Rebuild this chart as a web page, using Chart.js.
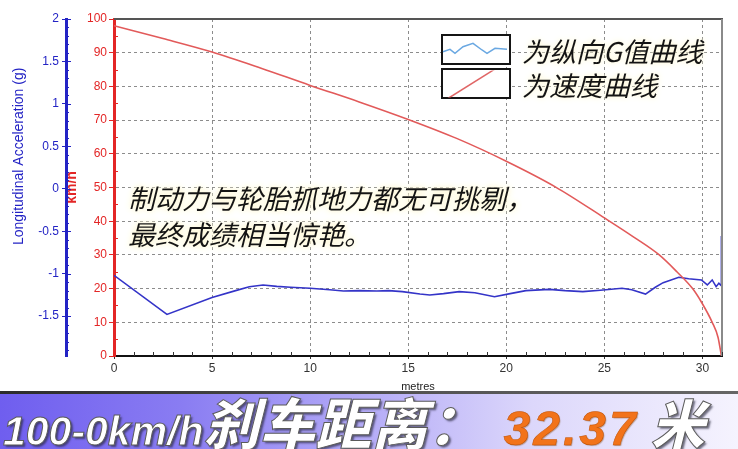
<!DOCTYPE html>
<html><head><meta charset="utf-8">
<title>100-0km/h 刹车距离</title>
<script src="https://cdn.jsdelivr.net/npm/chart.js"></script>
<style>
html,body{margin:0;padding:0;background:#fff;}
#wrap{position:relative;width:738px;height:449px;overflow:hidden;background:#fff;}
#c{position:absolute;left:0;top:0;}
.note{position:absolute;left:128px;font-family:'Noto Sans CJK SC',sans-serif;font-style:italic;font-size:27px;line-height:36px;color:#141414;white-space:nowrap;
  text-shadow:0 0 3px #fffbe6,0 0 6px #fff6c8,0 0 8px #fff8d8;}
.lgbox{position:absolute;left:441px;width:66px;height:27px;border:2.5px solid #151515;background:#fff;}
.lgtxt{position:absolute;left:522px;font-family:'Noto Sans CJK SC',sans-serif;font-style:italic;font-size:27px;line-height:32px;color:#141414;white-space:nowrap;
  text-shadow:0 0 3px #fffbe6,0 0 6px #fff6c8;}
#legsvg{position:absolute;left:0;top:0;}
#banner{position:absolute;left:0;top:391px;width:738px;height:58px;
  background:linear-gradient(to right,#6f5eef 0%,#8a7df2 25%,#b5acf7 50%,#dcd7fb 72%,#f5f3fe 100%);}
#bar{position:absolute;left:0;top:391px;width:738px;height:3px;background:linear-gradient(to right,#2c2c2c,#555 60%,#666);}
#btxt{position:absolute;left:3px;top:398px;white-space:nowrap;line-height:46px;font-weight:bold;font-style:italic;}
#btxt span{display:inline-block;}
#btxt .lat{font-family:'Liberation Sans',Arial,sans-serif;font-size:41px;color:#fff;
  -webkit-text-stroke:1px #5a5a5a;text-shadow:2px 2px 2px rgba(40,40,60,.65);}
#btxt .cjk{font-family:'Noto Sans CJK SC',sans-serif;font-size:56px;color:#fff;font-weight:900;
  -webkit-text-stroke:1px #5a5a5a;text-shadow:2px 2px 2px rgba(40,40,60,.65);}
#btxt .num{font-family:'Liberation Sans',Arial,sans-serif;font-size:48px;color:#f2731a;letter-spacing:3px;margin-left:20px;
  -webkit-text-stroke:0.5px #c05000;text-shadow:1px 1px 1px rgba(120,60,0,.4);}
#btxt .mi{font-size:54px;margin-left:12px;}
</style>
</head><body>
<div id="wrap">
<canvas id="c" width="738" height="449"></canvas>
<div class="note" style="top:180px;">制动力与轮胎抓地力都无可挑剔，</div>
<div class="note" style="top:216px;">最终成绩相当惊艳。</div>
<div class="lgbox" style="top:34px;"></div>
<div class="lgbox" style="top:68px;"></div>
<svg id="legsvg" width="738" height="120">
  <defs><clipPath id="cp2"><rect x="443.5" y="70.5" width="66" height="27"/></clipPath></defs>
  <polyline points="443,51.7 450,49.3 455,53.3 463,46.7 473,43.3 482,50 487,53.3 495,48.3 507,49.3" fill="none" stroke="#6aa8e2" stroke-width="1.5"/>
  <line x1="448" y1="98.5" x2="495" y2="69" stroke="#e06666" stroke-width="1.5" clip-path="url(#cp2)"/>
</svg>
<div class="lgtxt" style="top:35px;">为纵向G值曲线</div>
<div class="lgtxt" style="top:69px;">为速度曲线</div>
<div id="banner"></div>
<div id="bar"></div>
<div id="btxt"><span class="lat">100-0km/h</span><span class="cjk">刹车距离：</span><span class="num">32.37</span><span class="cjk mi">米</span></div>
</div>
<script>
// ---- data ----
const speedDist = [0, 2.5, 5, 7.5, 10, 12.5, 15, 17.5, 20, 22.5, 25, 26.5, 27.8, 28.7, 29.5, 30, 30.5, 30.8, 30.97];
const speedKmh  = [98, 94.2, 90.2, 85.4, 80.3, 75.4, 70.2, 64.5, 57.8, 50.2, 41.0, 35.3, 30, 25, 20, 15.5, 10, 5.5, 0];

const gDist = [0, 2.7, 5.0, 6.2, 6.9, 7.6, 8.3, 9.0, 10.0, 11.0, 11.7, 12.5, 13.4, 14.0, 14.7, 15.6, 16.1, 16.8, 17.6, 18.4, 19.4, 20.2, 21.0, 22.2, 23.0, 23.9, 24.8, 25.9, 26.4, 27.1, 27.6, 28.0, 28.8, 29.3, 29.95, 30.25, 30.5, 30.7, 30.84, 30.95, 30.97];
const gValue = [-1.02, -1.48, -1.28, -1.2, -1.155, -1.133, -1.15, -1.16, -1.172, -1.19, -1.205, -1.2, -1.205, -1.2, -1.212, -1.24, -1.251, -1.235, -1.212, -1.225, -1.271, -1.235, -1.2, -1.185, -1.2, -1.212, -1.195, -1.172, -1.19, -1.24, -1.16, -1.106, -1.043, -1.06, -1.074, -1.133, -1.074, -1.153, -1.113, -1.14, -0.556];

const xTicks = [0, 5, 10, 15, 20, 25, 30];
const kmhTicks = [0, 10, 20, 30, 40, 50, 60, 70, 80, 90, 100];
const gTicks = [2, 1.5, 1, 0.5, 0, -0.5, -1, -1.5];

const xMinor = []; for (let i = 1; i <= 31; i++) if (i % 5) xMinor.push(i);
const kmhMinor = [5, 15, 25, 35, 45, 55, 65, 75, 85, 95];
const gMinor = []; for (let i = -19; i <= 20; i++) if (i % 5) gMinor.push(i / 10);

const GRID = '#8c8c8c';
const RED = '#e32626';
const BLUE = '#2323c4';

const frame = {
  id: 'frame',
  afterDraw(chart) {
    const {ctx, chartArea: a, scales} = chart;
    ctx.save();
    ctx.lineWidth = 2;
    ctx.strokeStyle = '#555';
    ctx.beginPath(); ctx.moveTo(a.left, a.top); ctx.lineTo(a.right + 1, a.top); ctx.stroke();
    ctx.strokeStyle = '#8a8a8a';
    ctx.beginPath(); ctx.moveTo(a.right, a.top); ctx.lineTo(a.right, a.bottom); ctx.stroke();
    ctx.lineWidth = 1;
    ctx.strokeStyle = '#333';
    ctx.beginPath();
    xMinor.forEach(v => { const p = Math.round(scales.x.getPixelForValue(v)) + 0.5; ctx.moveTo(p, a.bottom); ctx.lineTo(p, a.bottom - 4); });
    ctx.stroke();
    ctx.strokeStyle = RED;
    ctx.beginPath();
    kmhMinor.forEach(v => { const p = Math.round(scales.y.getPixelForValue(v)) + 0.5; ctx.moveTo(a.left, p); ctx.lineTo(a.left + 4, p); });
    ctx.stroke();
    ctx.strokeStyle = BLUE;
    const gx = scales.g.right;
    ctx.beginPath();
    gMinor.forEach(v => { const p = Math.round(scales.g.getPixelForValue(v)) + 0.5; ctx.moveTo(gx, p); ctx.lineTo(gx + 3, p); });
    gTicks.forEach(v => { const p = Math.round(scales.g.getPixelForValue(v)) + 0.5; ctx.moveTo(gx, p); ctx.lineTo(gx + 5, p); });
    ctx.stroke();
    ctx.restore();
  }
};

Chart.defaults.font.family = "'Liberation Sans', Arial, sans-serif";

new Chart(document.getElementById('c'), {
  type: 'line',
  data: {
    datasets: [
      {
        label: '为速度曲线',
        data: speedDist.map((d, i) => ({x: d, y: speedKmh[i]})),
        yAxisID: 'y', borderColor: '#e25a5a', borderWidth: 1.6,
        pointRadius: 0, cubicInterpolationMode: 'monotone', fill: false
      },
      {
        label: '为纵向G值曲线',
        data: gDist.map((d, i) => ({x: d, y: gValue[i]})),
        yAxisID: 'g', borderColor: '#3434c8', borderWidth: 1.6,
        pointRadius: 0, tension: 0, fill: false
      }
    ]
  },
  options: {
    responsive: false,
    animation: false,
    layout: {padding: {top: 19, right: 16, bottom: 55, left: 0}},
    plugins: {legend: {display: false}, tooltip: {enabled: false}},
    scales: {
      x: {
        type: 'linear', min: 0, max: 31,
        afterBuildTicks: s => { s.ticks = xTicks.map(v => ({value: v})); },
        afterFit: s => { s.height = 38; },
        grid: {color: c => (c.tick && c.tick.value > 0) ? GRID : 'rgba(0,0,0,0)', lineWidth: 1,
               drawTicks: true, tickLength: 3, tickColor: '#333'},
        border: {display: true, color: '#111', width: 2, dash: [3, 3]},
        ticks: {color: '#333', font: {size: 12}, padding: 2, maxRotation: 0, callback: v => String(v)},
        title: {display: true, text: 'metres', color: '#222', font: {size: 11}, padding: {top: 0, bottom: 0}}
      },
      y: {
        position: 'left', weight: 0, min: 0, max: 100,
        afterBuildTicks: s => { s.ticks = kmhTicks.map(v => ({value: v})); },
        afterFit: s => { s.width = 48; },
        grid: {color: c => (c.tick && c.tick.value > 0 && c.tick.value < 100) ? GRID : 'rgba(0,0,0,0)',
               lineWidth: 1, tickLength: 5, tickColor: RED},
        border: {display: true, color: RED, width: 3, dash: [3, 3]},
        ticks: {color: RED, font: {size: 12}, padding: 2, callback: v => String(v)},
        title: {display: true, text: 'km/h', color: RED, font: {size: 14, weight: 'bold'}, padding: {top: -2, bottom: 0}}
      },
      g: {
        position: 'left', weight: 1, min: -1.97, max: 2,
        afterBuildTicks: s => { s.ticks = gTicks.map(v => ({value: v})); },
        afterFit: s => { s.width = 66; },
        grid: {drawOnChartArea: false, tickLength: 4, tickColor: BLUE},
        border: {display: true, color: BLUE, width: 3},
        ticks: {color: BLUE, font: {size: 12}, padding: 3, callback: v => String(v)},
        title: {display: true, text: '                Longitudinal Acceleration (g)', color: BLUE, font: {size: 14}, padding: {top: 11, bottom: 0}}
      }
    }
  },
  plugins: [frame]
});
</script>
</body></html>
